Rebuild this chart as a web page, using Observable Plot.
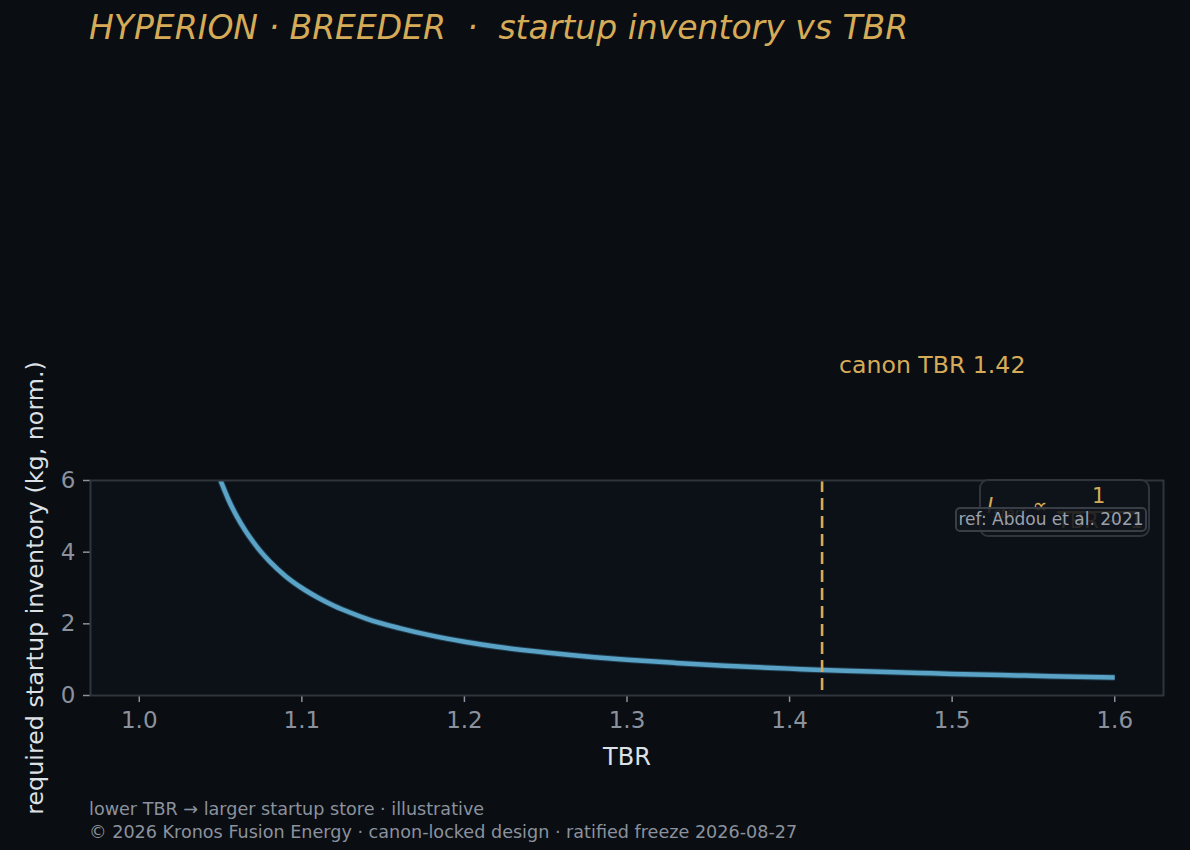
<!DOCTYPE html>
<html>
<head>
<meta charset="utf-8">
<script src="https://cdn.jsdelivr.net/npm/d3@7"></script>
<script src="https://cdn.jsdelivr.net/npm/@observablehq/plot@0.6"></script>
<style>
  html, body { margin: 0; padding: 0; background: #0a0d12; }
  #wrap { position: relative; width: 1190px; height: 850px; overflow: hidden; font-family: "DejaVu Sans", sans-serif; }
  #title { height: 60px; box-sizing: border-box; padding: 11px 0 0 89px; font-size: 33px; line-height: 1; font-style: italic; color: #d6ab58; white-space: pre; }
  #chart svg { display: block; }
  #footer { box-sizing: border-box; padding: 8px 0 0 89px; font-size: 17.6px; line-height: 23px; color: #8b929d; }
  #formula { position: absolute; left: 979px; top: 479px; width: 171px; height: 58px; box-sizing: border-box; border: 2px solid #2f343d; border-radius: 9px; background: #0e1219; color: #d6ab58; font-size: 21px; }
  #formula .lhs { position: absolute; left: 6px; top: 13px; font-style: italic; white-space: nowrap; }
  #formula .lhs sub { font-size: 14px; font-style: italic; }
  #formula .num { position: absolute; left: 111px; top: 3px; }
  #formula .den { position: absolute; left: 76px; top: 28px; white-space: nowrap; }
  #formula .bar { position: absolute; left: 76px; top: 30px; width: 82px; height: 1.5px; background: #d6ab58; }
  #ref { position: absolute; left: 955px; top: 507px; width: 192px; height: 25px; box-sizing: border-box; border: 2px solid #383d46; border-radius: 5px; background: rgba(17, 21, 28, 0.88); color: #9aa1ab; font-size: 17px; line-height: 21px; text-align: center; white-space: nowrap; }
</style>
</head>
<body>
<div id="wrap">
  <div id="title">HYPERION · BREEDER  ·  startup inventory vs TBR</div>
  <div id="chart"></div>
  <div id="footer">lower TBR → larger startup store · illustrative<br>© 2026 Kronos Fusion Energy · canon-locked design · ratified freeze 2026-08-27</div>
  <div id="formula">
    <span class="lhs">I<sub>start</sub> ∝</span>
    <span class="num">1</span>
    <span class="bar"></span>
    <span class="den">TBR − 1</span>
  </div>
  <div id="ref">ref: Abdou et al. 2021</div>
</div>
<script>
// TBR values (x) and required startup inventory (y)
const tbr = [1.05, 1.055, 1.06, 1.065, 1.07, 1.075, 1.08, 1.09, 1.10, 1.11, 1.12, 1.13, 1.14, 1.16, 1.18, 1.20, 1.22, 1.25, 1.28, 1.30, 1.33, 1.36, 1.40, 1.42, 1.45, 1.48, 1.50, 1.53, 1.56, 1.60];
const inventory = [6.0, 5.45, 5.0, 4.62, 4.29, 4.0, 3.75, 3.33, 3.0, 2.73, 2.5, 2.31, 2.14, 1.88, 1.67, 1.5, 1.36, 1.2, 1.07, 1.0, 0.91, 0.83, 0.75, 0.71, 0.67, 0.63, 0.6, 0.57, 0.54, 0.5];
const xTicks = [1.0, 1.1, 1.2, 1.3, 1.4, 1.5, 1.6];
const yTicks = [0, 2, 4, 6];
const canonTBR = [1.42];
const canonLabel = ["canon TBR 1.42"];
const canonLabelY = 9.2;

const curve = tbr.map((t, i) => ({ tbr: t, inv: inventory[i] }));

const tickColor = "#8b929d";
const fontFam = `"DejaVu Sans", sans-serif`;

const chart = Plot.plot({
  width: 1190,
  height: 730,
  marginTop: 420,
  marginBottom: 95,
  marginLeft: 90,
  marginRight: 27,
  style: { background: "transparent", fontFamily: fontFam, overflow: "visible" },
  x: { domain: [0.97, 1.63] },
  y: { domain: [0, 6] },
  marks: [
    Plot.frame({ fill: "#0c1017", stroke: "none" }),
    Plot.axisX({ ticks: xTicks, tickFormat: d3.format(".1f"), tickSize: 7, tickPadding: 9, stroke: tickColor, strokeWidth: 1.5, fill: tickColor, fontSize: 23, label: null }),
    Plot.axisY({ ticks: yTicks, tickFormat: d3.format("d"), tickSize: 7, tickPadding: 8, stroke: tickColor, strokeWidth: 1.5, fill: tickColor, fontSize: 23, label: null }),
    Plot.text(["TBR"], { frameAnchor: "bottom", dy: 62, fill: "#dde1e6", fontSize: 24, lineAnchor: "middle" }),
    Plot.text(["required startup inventory (kg, norm.)"], { frameAnchor: "left", dx: -55, rotate: -90, fill: "#dde1e6", fontSize: 23.8, lineAnchor: "middle", textAnchor: "middle" }),
    Plot.line(curve, { x: "tbr", y: "inv", stroke: "#1d3a4b", strokeWidth: 6.5, curve: "monotone-x", strokeLinecap: "butt", clip: "frame" }),
    Plot.line(curve, { x: "tbr", y: "inv", stroke: "#5aa3c6", strokeWidth: 4.5, curve: "monotone-x", strokeLinecap: "butt", clip: "frame" }),
    Plot.ruleX(canonTBR, { stroke: "#d6ab58", strokeWidth: 2.6, strokeDasharray: "12,6" }),
    Plot.text(canonLabel, { x: canonTBR, y: [canonLabelY], dx: 17, textAnchor: "start", fill: "#d6ab58", fontSize: 23.6, lineAnchor: "middle" }),
    Plot.frame({ stroke: "#2f343d", strokeWidth: 2 })
  ]
});
document.getElementById("chart").appendChild(chart);
</script>
</body>
</html>
